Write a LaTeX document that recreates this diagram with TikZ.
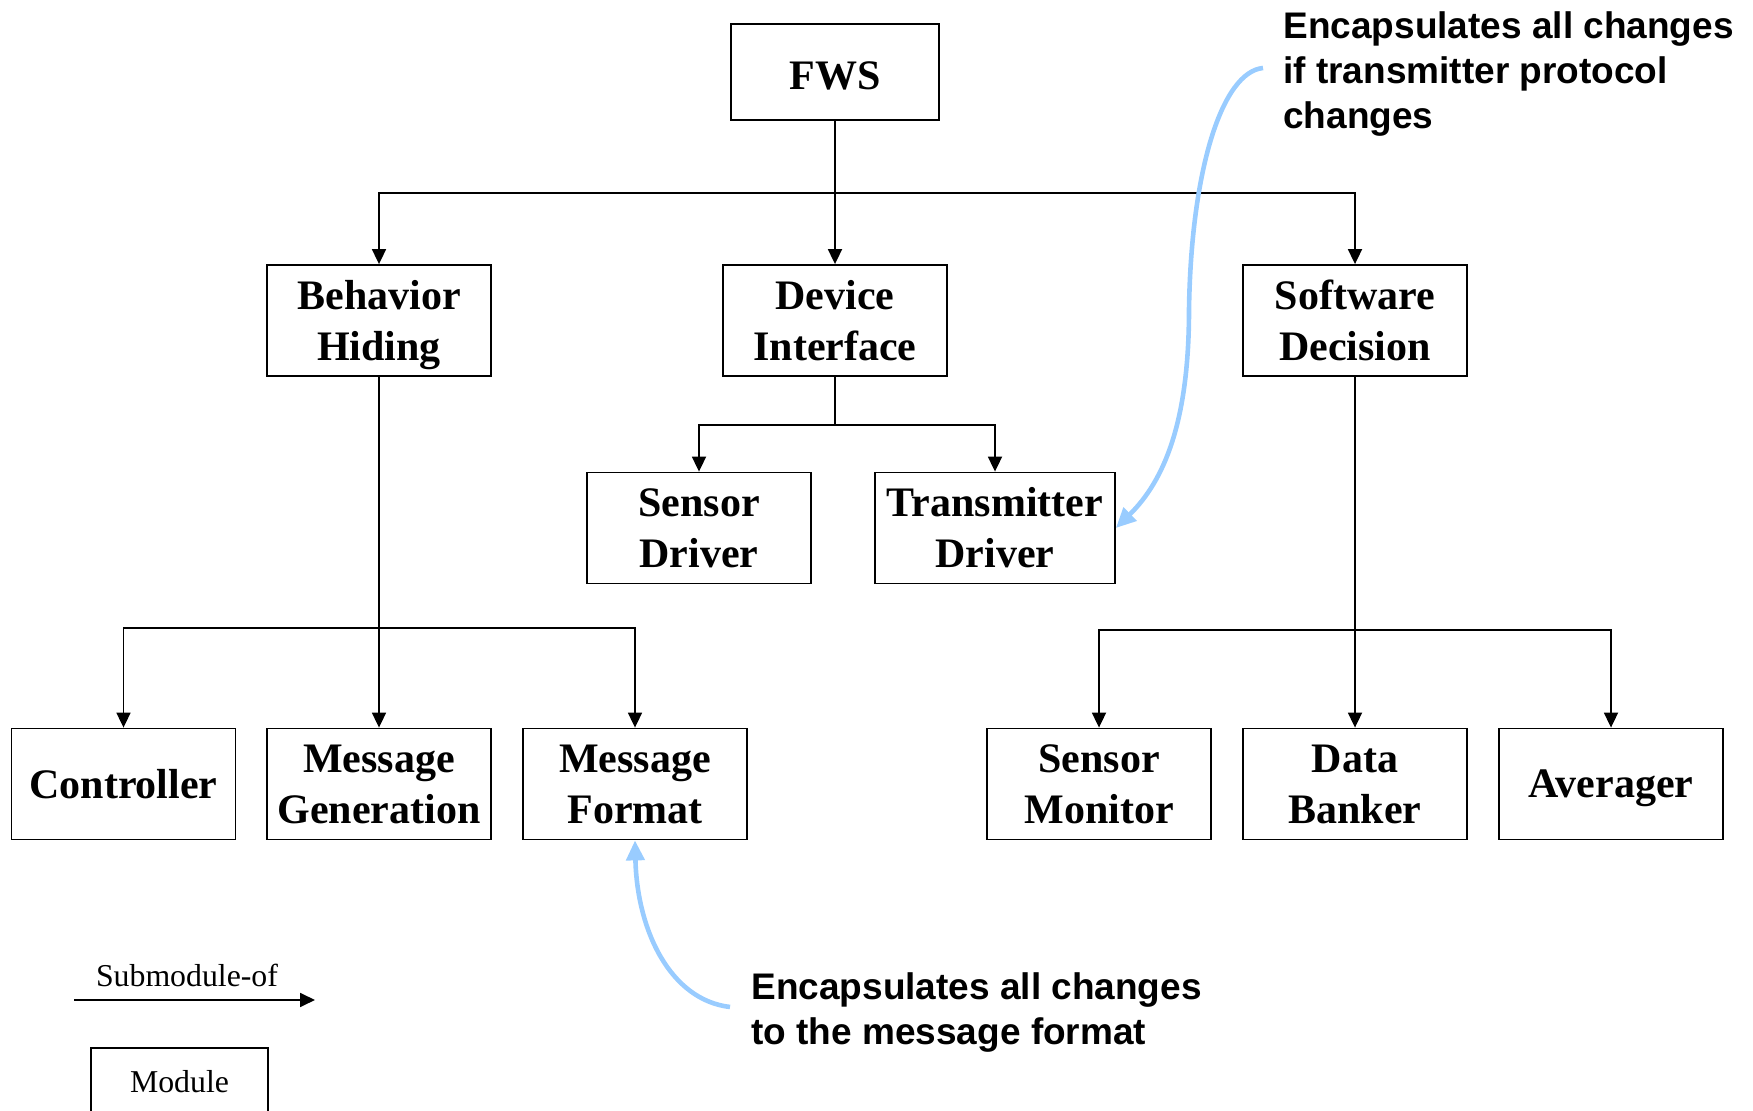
\documentclass[tikz,border=0pt]{standalone}
\usepackage{fontspec}
\setmainfont{Liberation Serif}
\newfontfamily\notefont{Liberation Sans}
\usetikzlibrary{arrows.meta}
\definecolor{noteblue}{RGB}{153,204,255}
% keep descenders from pulling a label upwards
\newcommand{\nodepth}[1]{\raisebox{0pt}[\height][0pt]{#1}}
% push a short label a little lower in its box
\newcommand{\lowered}[1]{\raisebox{0pt}[\dimexpr\height+3.5pt\relax][\depth]{#1}}

\begin{document}
\begin{tikzpicture}[x=0.5pt,y=-0.5pt]
	\tikzset{module/.style = {shape=rectangle,draw,line width=0.9pt,
			minimum width=112pt, minimum height=55.5pt, inner sep=2pt,
			align=center, font=\fontsize{21}{25.5}\selectfont\bfseries}}
	\tikzset{edge/.style = {-{Triangle[length=7.5pt,width=7pt]}, line width=0.9pt}}
	\tikzset{noteedge/.style = {-{Triangle[length=10pt,width=9pt]}, noteblue,
			line width=2.3pt}}
	\tikzset{note/.style = {align=left, inner sep=0pt,
			font=\notefont\fontsize{18.5}{22.5}\selectfont\bfseries}}
	\tikzset{legend/.style = {font=\fontsize{15.9}{19}\selectfont}}

	\useasboundingbox (0,0) rectangle (1753,1111);

	% modules
	\node[module, minimum width=104pt, minimum height=48pt] (fws) at (835,72)
		{\lowered{FWS}};

	\node[module] (bh) at (379,320.5) {Behavior\\\nodepth{Hiding}};
	\node[module] (devif) at (835,320.5) {Device\\Interface};
	\node[module] (swd) at (1355,320.5) {Software\\Decision};

	\node[module] (sdrv) at (699,528) {Sensor\\Driver};
	\node[module, minimum width=120pt] (tdrv) at (995,528) {Transmitter\\Driver};

	\node[module] (ctrl) at (123.5,784) {Controller};
	\node[module] (msggen) at (379,784) {Message\\Generation};
	\node[module] (msgfmt) at (635,784) {Message\\Format};

	\node[module] (smon) at (1099,784) {Sensor\\Monitor};
	\node[module] (dbank) at (1355,784) {Data\\Banker};
	\node[module] (avg) at (1611,784) {\nodepth{Averager}};

	%edges
	\draw[edge] (fws.south) -- (devif.north);
	\draw[edge] (fws.south) -- ++(0,72) -| (bh.north);
	\draw[edge] (fws.south) -- ++(0,72) -| (swd.north);

	\draw[edge] (devif.south) -- ++(0,48) -| (sdrv.north);
	\draw[edge] (devif.south) -- ++(0,48) -| (tdrv.north);

	\draw[edge] (bh.south) -- (msggen.north);
	\draw[edge] (bh.south) -- ++(0,251) -| (ctrl.north);
	\draw[edge] (bh.south) -- ++(0,251) -| (msgfmt.north);

	\draw[edge] (swd.south) -- (dbank.north);
	\draw[edge] (swd.south) -- ++(0,253) -| (smon.north);
	\draw[edge] (swd.south) -- ++(0,253) -| (avg.north);

	% notes
	\node[note, anchor=west] (tnote) at (1283,74)
		{Encapsulates all changes\\if transmitter protocol\\changes};
	\node[note, anchor=west] (fnote) at (751,1013)
		{Encapsulates all changes\\to the message format};

	\coordinate (tnote tail) at (1263,68);
	\coordinate (fnote tail) at (730,1007);
	\draw[noteedge] (tnote tail) .. controls (1222,72) and (1191,170) .. (1189,310)
		.. controls (1189,420) and (1165,480) .. (tdrv.east);
	\draw[noteedge] (fnote tail) .. controls (670,1000) and (637,930) .. (msgfmt.south);

	% legend
	\coordinate (leg a) at (74,1000);
	\coordinate (leg b) at (315,1000);
	\draw[edge] (leg a) -- (leg b);
	\node[legend] (sublabel) at (187,975) {Submodule-of};
	\node[legend, draw, line width=0.9pt, minimum width=88.5pt, minimum height=34pt]
		(legmod) at (179.5,1082) {Module};
\end{tikzpicture}
\end{document}
